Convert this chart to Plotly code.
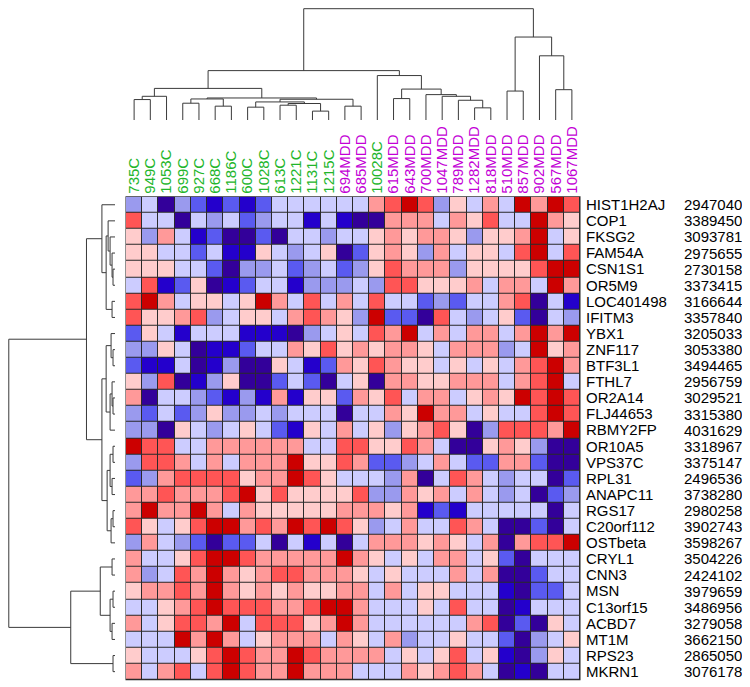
import plotly.graph_objects as go

# ---------------- data ----------------
samples = ["735C", "949C", "1053C", "699C", "927C", "668C", "1186C", "600C", "1028C",
           "613C", "1221C", "1131C", "1215C", "694MDD", "685MDD", "10028C", "615MDD",
           "643MDD", "700MDD", "1047MDD", "789MDD", "1282MDD", "818MDD", "510MDD",
           "857MDD", "902MDD", "567MDD", "1067MDD"]

genes = ["HIST1H2AJ", "COP1", "FKSG2", "FAM54A", "CSN1S1", "OR5M9", "LOC401498", "IFITM3",
         "YBX1", "ZNF117", "BTF3L1", "FTHL7", "OR2A14", "FLJ44653", "RBMY2FP", "OR10A5",
         "VPS37C", "RPL31", "ANAPC11", "RGS17", "C20orf112", "OSTbeta", "CRYL1", "CNN3",
         "MSN", "C13orf15", "ACBD7", "MT1M", "RPS23", "MKRN1"]

probe_ids = ["2947040", "3389450", "3093781", "2975655", "2730158", "3373415", "3166644",
             "3357840", "3205033", "3053380", "3494465", "2956759", "3029521", "3315380",
             "4031629", "3318967", "3375147", "2496536", "3738280", "2980258", "3902743",
             "3598267", "3504226", "2424102", "3979659", "3486956", "3279058", "3662150",
             "2865050", "3076178"]

# expression level (binned, -5 = darkest blue ... 4 = darkest red), one list per gene row
expr = [
    [-2,-1,-5,-2,-3,-4,-3,-4,-3,-1,-1,-1,-1,-1,-1,2,3,4,3,-2,1,-1,2,-1,4,2,4,3],
    [3,-1,-1,-5,-1,-2,-1,-3,-2,-1,-1,-4,-1,-4,-5,-5,2,2,2,-1,2,1,3,-1,-1,4,2,1],
    [1,-2,2,-1,-4,-3,-5,-5,-3,-5,-1,-1,-2,-1,-1,1,2,1,2,2,1,-2,1,1,2,4,-1,1],
    [1,1,-1,-1,-3,-1,-4,-4,1,-1,-2,-1,1,-5,-3,1,2,1,-2,2,-1,1,1,-1,3,4,-1,3],
    [1,1,1,-1,-1,-3,-5,-2,-2,-1,-3,-2,-1,-3,-2,1,3,2,2,2,-2,1,1,1,1,3,4,4],
    [-1,3,-4,-3,1,-5,-4,-3,-1,-1,-4,-2,-2,-2,-1,-2,3,3,1,1,1,2,-1,2,2,-1,4,2],
    [3,4,2,-1,1,1,-1,1,4,2,-1,3,-1,2,-1,3,-1,-1,-3,-2,-3,-1,-1,2,3,-5,-1,-4],
    [3,1,1,2,3,-2,-1,1,1,-1,2,3,2,1,-2,4,-3,-3,-5,3,-1,-2,-1,1,-3,-5,-1,-2],
    [-3,1,-1,-4,-1,-1,-1,-4,-4,-4,-5,-2,-1,1,-1,3,2,4,-1,2,-1,2,2,-1,2,4,2,4],
    [-2,-2,1,-1,-5,-4,-4,-3,-1,-1,2,1,3,1,2,1,2,2,1,-1,2,2,2,-2,-1,4,1,2],
    [-3,-4,-4,-1,-5,-4,-2,-5,-5,1,-1,-4,-3,2,1,3,2,1,1,-1,1,-1,1,-1,2,3,4,2],
    [1,-2,3,-5,-4,-2,1,-5,-5,-3,-1,-3,-5,-1,1,-5,2,2,1,1,2,2,2,-1,2,3,4,-1],
    [2,-5,-1,-1,-2,-3,-4,-2,-4,2,-4,1,1,-3,2,1,3,-1,2,2,-1,1,2,1,4,3,4,3],
    [-2,-3,-1,-3,-2,1,-2,-2,-1,-2,-1,-1,-1,-5,-1,-1,2,1,4,2,2,-1,1,-1,-1,3,4,3],
    [-2,-2,-5,1,-1,-2,-1,1,-1,-3,-4,1,-1,2,-1,1,-2,1,2,3,1,-5,-2,3,3,3,2,4],
    [4,3,3,-1,-1,2,2,2,2,2,2,-1,-1,3,3,1,1,3,2,-1,-5,-5,1,2,1,-2,-5,-5],
    [-2,3,3,2,-1,2,-1,2,2,2,4,1,1,3,2,-3,-3,-2,-1,2,-1,-3,-3,2,2,-3,-5,-5],
    [-3,-2,2,3,3,3,3,1,2,2,4,3,1,-1,-1,-1,-2,2,-5,-1,3,2,-1,-2,-1,-1,-5,-3],
    [2,2,3,2,2,2,3,4,1,3,1,1,1,1,3,-2,-2,2,1,2,-1,2,-1,-2,-1,-5,-3,-2],
    [2,4,2,2,4,2,-1,2,1,1,1,1,1,2,2,2,1,2,-4,-3,-4,-1,-1,-1,-1,-1,-5,-1],
    [3,1,-1,1,3,4,4,2,3,2,4,3,4,3,1,-2,-1,2,-1,-1,3,2,-1,-5,-5,-3,-5,-1],
    [-2,2,-1,-2,-3,-5,-3,-3,-1,-5,-1,-4,-1,-5,-1,2,2,2,1,2,1,-1,2,-5,2,3,3,4],
    [2,-1,-1,1,3,4,4,3,2,2,2,2,2,4,2,1,-1,1,-1,2,2,-1,1,-3,-5,-1,-1,-1],
    [2,-2,-1,3,2,4,2,1,2,3,3,2,2,2,1,-1,1,-1,-1,-1,2,-1,2,-5,-5,-3,-1,-1],
    [1,2,2,3,2,4,2,1,2,1,2,1,1,2,2,-1,2,-1,1,1,-1,-1,-1,-4,-5,-3,-3,-1],
    [-1,-1,1,2,3,4,3,3,3,2,2,3,4,4,2,-1,-1,-1,1,-1,3,-1,-1,-5,-4,-1,-1,-1],
    [2,-1,1,3,3,2,4,-1,3,3,3,1,2,4,2,-1,-1,-1,-1,-1,-1,2,3,-5,-3,-5,1,-1],
    [-1,-1,-1,4,2,4,2,-1,1,2,2,2,-1,2,1,-1,2,-2,-1,-1,1,-1,-1,-3,-5,-2,-1,1],
    [1,-1,-1,-1,1,3,4,3,2,2,4,3,2,2,2,2,-1,1,-1,1,3,-1,1,-4,-5,-2,1,-1],
    [2,-1,2,3,-1,3,4,3,2,2,4,2,2,2,-1,-1,-1,2,1,2,3,2,-1,-5,-4,-5,-1,-1],
]

levels = [-5, -4, -3, -2, -1, 1, 2, 3, 4]
level_colors = ["#33009A", "#2400CC", "#5A5AF0", "#9A9AEE", "#CCCCFF",
                "#FFCCCC", "#FF9999", "#FF5555", "#CC0000"]

# column dendrogram merges: (child_a, child_b, height); new cluster ids start at 28
col_merges = [
    (0, 1, 20.7), (28, 2, 24), (3, 4, 17), (5, 6, 14), (30, 31, 21.3),
    (7, 8, 13), (9, 10, 15), (11, 12, 9), (34, 35, 16.7), (33, 36, 18.3),
    (13, 14, 14), (37, 38, 21), (32, 39, 22.3), (29, 40, 32),
    (16, 17, 21.7), (21, 22, 12.3), (20, 43, 20), (19, 44, 24), (18, 45, 25.7),
    (42, 46, 31.3), (15, 47, 45), (41, 48, 50),
    (23, 24, 29.3), (26, 27, 30.7), (25, 51, 65), (50, 52, 84), (49, 53, 112.7),
]

# row dendrogram merges; new cluster ids start at 30
row_merges = [
    (4, 5, 2), (3, 30, 3), (2, 31, 5), (1, 32, 7), (6, 7, 3), (33, 34, 9), (0, 35, 13.3),
    (9, 10, 2), (8, 37, 4), (12, 13, 2), (11, 39, 3), (40, 14, 5), (38, 41, 9),
    (15, 16, 2), (17, 18, 3), (43, 44, 5), (19, 20, 2), (46, 21, 4), (45, 47, 8),
    (42, 48, 13.3), (36, 49, 29),
    (22, 23, 3), (24, 25, 2), (26, 27, 3), (52, 53, 5), (51, 54, 15), (28, 29, 2),
    (55, 56, 45), (50, 57, 108),
]

# ---------------- helpers ----------------
def dendro_lines(merges, n):
    pos = {i: float(i) for i in range(n)}
    hgt = {i: 0.0 for i in range(n)}
    ps, hs = [], []
    for k, (a, b, h) in enumerate(merges):
        pa, pb, ha, hb = pos[a], pos[b], hgt[a], hgt[b]
        ps += [pa, pa, pb, pb, None]
        hs += [ha, h, h, hb, None]
        pos[n + k] = (pa + pb) / 2.0
        hgt[n + k] = h
    return ps, hs

# page has an 8px body margin -> figure is drawn 8px in from the top-left
OFF = 8
W, H = 750 - OFF, 687 - OFF
FONT = "Liberation Sans, Arial, sans-serif"
GREEN = "#22B52A"
MAGENTA = "#C300D6"

def px(x):
    return (x - OFF) / W

def py(y):
    return 1 - (y - OFF) / H

hx0, hx1 = px(126), px(580)
hy0, hy1 = py(679.7), py(196.7)

lvl_index = {v: i for i, v in enumerate(levels)}
zi = [[lvl_index[v] for v in row] for row in expr]
nl = len(levels)
cs = []
for i, c in enumerate(level_colors):
    cs.append([i / nl, c])
    cs.append([(i + 1) / nl, c])

fig = go.Figure()
fig.add_trace(go.Heatmap(
    z=zi, x=list(range(len(samples))), y=list(range(len(genes))),
    colorscale=cs, zmin=-0.5, zmax=nl - 0.5, showscale=False,
    xgap=1, ygap=1, hoverinfo="skip"))

cp, ch = dendro_lines(col_merges, len(samples))
fig.add_trace(go.Scatter(x=cp, y=ch, mode="lines", xaxis="x", yaxis="y2",
                         line=dict(color="#3a3a3a", width=1), hoverinfo="skip",
                         showlegend=False))

rp, rh = dendro_lines(row_merges, len(genes))
fig.add_trace(go.Scatter(x=rh, y=rp, mode="lines", xaxis="x3", yaxis="y",
                         line=dict(color="#3a3a3a", width=1), hoverinfo="skip",
                         showlegend=False))

ticktext = [f"<span style='color:{MAGENTA if s.endswith('MDD') else GREEN}'>{s}</span>"
            for s in samples]

fig.update_layout(
    width=W, height=H, margin=dict(l=0, r=0, t=0, b=0),
    paper_bgcolor="white", plot_bgcolor="white", showlegend=False,
    font=dict(family=FONT, size=15, color="black"),
    xaxis=dict(domain=[hx0, hx1], range=[-0.5, len(samples) - 0.5], anchor="y",
               side="top", tickmode="array", tickvals=list(range(len(samples))),
               ticktext=ticktext, tickangle=-90, ticks="", showgrid=False,
               zeroline=False, showline=False, tickfont=dict(size=15, family=FONT),
               ticklabelstandoff=2),
    yaxis=dict(domain=[hy0, hy1], range=[len(genes) - 0.5, -0.5], anchor="x",
               side="right", tickmode="array", tickvals=list(range(len(genes))),
               ticktext=genes, ticks="", showgrid=False, zeroline=False,
               showline=False, tickfont=dict(size=15, family=FONT),
               ticklabelstandoff=5),
    yaxis2=dict(domain=[py(120), 1], range=[0, 113.4], anchor="x", visible=False),
    xaxis3=dict(domain=[0, px(115)], range=[108.8, 0], anchor="y", visible=False),
    shapes=[dict(type="rect", xref="paper", yref="paper", x0=hx0 - 0.0007,
                 x1=hx1 + 0.0007, y0=hy0 - 0.0008, y1=hy1 + 0.0008,
                 fillcolor="#2a2a2a", line=dict(width=0), layer="below")],
)

for i, pid in enumerate(probe_ids):
    fig.add_annotation(x=px(681.5), xref="paper", y=i, yref="y", text=pid,
                       showarrow=False, xanchor="left", yanchor="middle",
                       font=dict(size=15, family=FONT, color="black"))

fig.write_html("out.html")
